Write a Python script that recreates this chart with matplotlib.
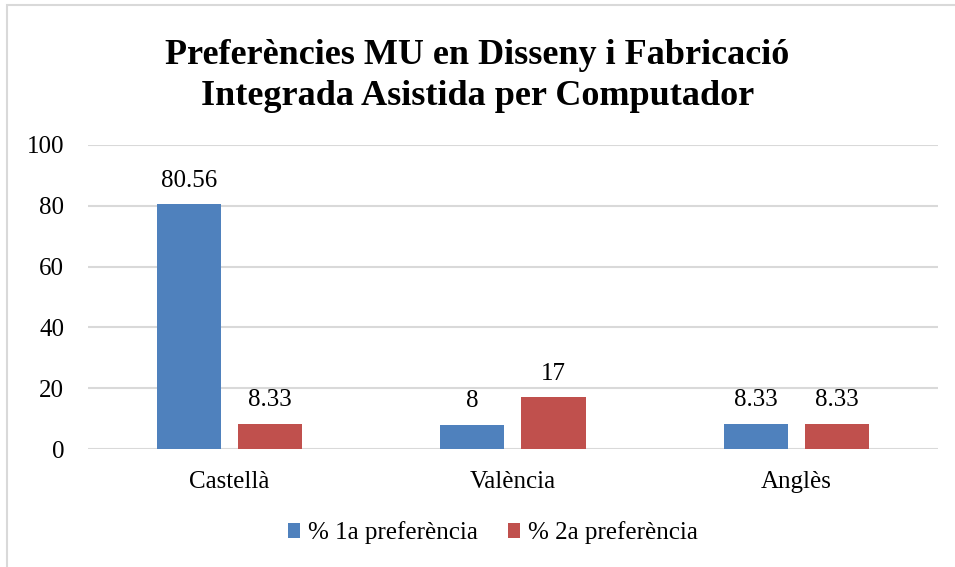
import matplotlib.pyplot as plt
import matplotlib.patches as patches
import numpy as np

plt.rcParams['font.family'] = ['Liberation Serif', 'DejaVu Serif']

categories = ['Castellà', 'València', 'Anglès']
pref1 = [80.56, 8, 8.33]
pref2 = [8.33, 17, 8.33]
labels1 = ['80.56', '8', '8.33']
labels2 = ['8.33', '17', '8.33']
series_names = ['% 1a preferència', '% 2a preferència']
yticks = [0, 20, 40, 60, 80, 100]

blue = '#4F81BD'
red = '#C0504D'
grid_col = '#D9D9D9'

fig = plt.figure(figsize=(9.55, 5.67), dpi=100)
ax = fig.add_axes([0.0921, 0.2081, 0.8901, 0.5362])

x = np.arange(len(categories))
w = 0.226
gap = 0.06
b1 = ax.bar(x - (w + gap) / 2, pref1, w, color=blue, label=series_names[0], zorder=3)
b2 = ax.bar(x + (w + gap) / 2, pref2, w, color=red, label=series_names[1], zorder=3)

for bars, labs in ((b1, labels1), (b2, labels2)):
    for rect, lab in zip(bars, labs):
        ax.annotate(lab, (rect.get_x() + rect.get_width() / 2, rect.get_height()),
                    xytext=(0, 9), textcoords='offset points',
                    ha='center', va='bottom', fontsize=18)

ax.set_xlim(-0.5, 2.5)
ax.set_ylim(0, 100)
ax.set_yticks(yticks)
ax.set_xticks(x)
ax.set_xticklabels(categories)
ax.tick_params(axis='y', length=0, pad=17, labelsize=18)
ax.tick_params(axis='x', length=0, pad=16, labelsize=18)
ax.yaxis.grid(True, color=grid_col, linewidth=1.5, zorder=0)
for s in ax.spines.values():
    s.set_visible(False)

fig.text(0.5, 0.866, 'Preferències MU en Disseny i Fabricació\nIntegrada Asistida per Computador',
         ha='center', va='center', fontsize=26, fontweight='bold', linespacing=1.33)

fig.legend(loc='center', bbox_to_anchor=(0.516, 0.06), ncol=2, frameon=False,
           fontsize=18, handlelength=0.5, handleheight=0.5, handletextpad=0.3,
           columnspacing=1.2)

border = patches.Rectangle((0.0073, -0.1), 1.2, 1.0912, transform=fig.transFigure,
                           fill=False, edgecolor=grid_col, linewidth=1.5)
fig.patches.append(border)

fig.savefig('out.png', dpi=100)
